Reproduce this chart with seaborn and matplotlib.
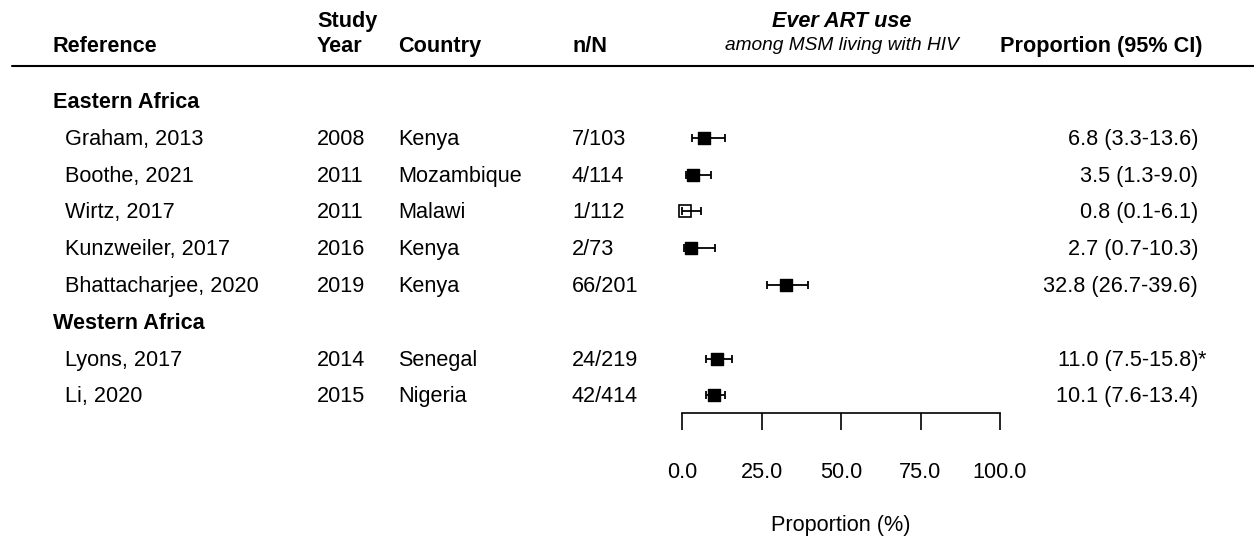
import numpy as np
import pandas as pd
import seaborn as sns
import matplotlib.pyplot as plt
import matplotlib.transforms as mtransforms
from matplotlib.lines import Line2D

# ---- data ----
regions = ["Eastern Africa", "Western Africa"]
study_region = ["Eastern Africa"] * 5 + ["Western Africa"] * 2
references = ["Graham, 2013", "Boothe, 2021", "Wirtz, 2017", "Kunzweiler, 2017",
              "Bhattacharjee, 2020", "Lyons, 2017", "Li, 2020"]
study_years = [2008, 2011, 2011, 2016, 2019, 2014, 2015]
countries = ["Kenya", "Mozambique", "Malawi", "Kenya", "Kenya", "Senegal", "Nigeria"]
n_over_N = ["7/103", "4/114", "1/112", "2/73", "66/201", "24/219", "42/414"]
estimate = [6.8, 3.5, 0.8, 2.7, 32.8, 11.0, 10.1]
ci_low = [3.3, 1.3, 0.1, 0.7, 26.7, 7.5, 7.6]
ci_high = [13.6, 9.0, 6.1, 10.3, 39.6, 15.8, 13.4]
notes = ["", "", "", "", "", "*", ""]
filled = [True, True, False, True, True, True, True]
x_ticks = [0, 25, 50, 75, 100]

df = pd.DataFrame({
    "region": study_region, "ref": references, "year": study_years,
    "country": countries, "nN": n_over_N, "est": estimate,
    "lo": ci_low, "hi": ci_high, "note": notes, "filled": filled,
})

# row positions: a header row per region, then its studies
row = 0
header_rows = {}
study_rows = []
for reg in regions:
    header_rows[reg] = row
    row += 1
    for _ in range(int((df["region"] == reg).sum())):
        study_rows.append(row)
        row += 1
df["row"] = study_rows

sns.set_theme(style="white")
plt.rcParams["font.family"] = ["Liberation Sans", "DejaVu Sans"]
plt.rcParams["text.color"] = "black"
plt.rcParams["axes.labelcolor"] = "black"
plt.rcParams["xtick.color"] = "black"
plt.rcParams["xtick.labelcolor"] = "black"
FS = 15.6

W, H = 1254, 537
fig = plt.figure(figsize=(W / 100, H / 100), dpi=100)
fig.patch.set_facecolor("white")

# axes: x 0..100 spans px 682..1000, bottom at axis line (px 413)
top_px, bot_px = 65, 413
ax = fig.add_axes([682 / W, 1 - bot_px / H, 318 / W, (bot_px - top_px) / H])
row_px0, row_step = 101, 36.8
ax.set_ylim((bot_px - row_px0) / row_step, (top_px - row_px0) / row_step)
ax.set_xlim(0, 100)
ax.patch.set_alpha(0)

# CI whiskers
eb = ax.errorbar(df["est"], df["row"],
                 xerr=[df["est"] - df["lo"], df["hi"] - df["est"]],
                 fmt="none", ecolor="black", elinewidth=1.3, capsize=2.6, capthick=1.3)
for part in eb.lines[1] + eb.lines[2]:
    part.set_clip_on(False)
# point estimates
sns.scatterplot(data=df[df["filled"]], x="est", y="row", marker="s", s=80,
                color="black", edgecolor="black", linewidth=1, ax=ax, zorder=3,
                clip_on=False)
hollow = df[~df["filled"]]
ax.plot(hollow["est"], hollow["row"], linestyle="none", marker="s", markersize=8.8,
        markerfacecolor="none", markeredgecolor="black", markeredgewidth=1.2,
        zorder=3, clip_on=False)

# axis styling
for side in ["left", "top", "right"]:
    ax.spines[side].set_visible(False)
ax.spines["bottom"].set_bounds(0, 100)
ax.spines["bottom"].set_linewidth(1.2)
ax.spines["bottom"].set_color("black")
ax.set_xticks(x_ticks)
ax.set_xticklabels([f"{t:.1f}" for t in x_ticks], fontsize=FS, color="black")
ax.tick_params(axis="x", direction="out", length=12.2, width=1.2, color="black",
               pad=23, bottom=True)
ax.set_yticks([])
ax.set_ylabel("")
ax.set_xlabel("Proportion (%)", fontsize=FS, labelpad=23, color="black")

# table text columns (x in figure px, y in data rows)
blend = mtransforms.blended_transform_factory(
    mtransforms.Affine2D().scale(1 / W, 1) + fig.transFigure, ax.transData)
tr = mtransforms.offset_copy(blend, fig=fig, y=-7, units="dots")

def put(x_px, y, s, **kw):
    ax.text(x_px, y, s, transform=tr, va="baseline", fontsize=FS,
            clip_on=False, **kw)

for reg in regions:
    put(53, header_rows[reg], reg, fontweight="bold")
for _, r in df.iterrows():
    put(65, r["row"], r["ref"])
    put(317, r["row"], str(r["year"]))
    put(398, r["row"], r["country"])
    put(572, r["row"], r["nN"])
    put(1198, r["row"], f"{r['est']:.1f} ({r['lo']:.1f}-{r['hi']:.1f})", ha="right")
    if r["note"]:
        put(1198, r["row"], r["note"], ha="left")

# header
def head(x_px, y_px, s, **kw):
    fig.text(x_px / W, 1 - y_px / H, s, va="baseline", **kw)

head(53, 52, "Reference", fontsize=FS, fontweight="bold")
head(317, 27, "Study", fontsize=FS, fontweight="bold")
head(317, 52, "Year", fontsize=FS, fontweight="bold")
head(398, 52, "Country", fontsize=FS, fontweight="bold")
head(572, 52, "n/N", fontsize=FS, fontweight="bold")
head(842, 27, "Ever ART use", fontsize=FS, fontweight="bold", style="italic", ha="center")
head(842, 50, "among MSM living with HIV", fontsize=13.8, style="italic", ha="center")
head(1203, 52, "Proportion (95% CI)", fontsize=FS, fontweight="bold", ha="right")
fig.add_artist(Line2D([12 / W, 1], [1 - 65.5 / H] * 2, transform=fig.transFigure,
                      color="black", linewidth=1.5))

fig.savefig("out.png", dpi=100, facecolor="white")
